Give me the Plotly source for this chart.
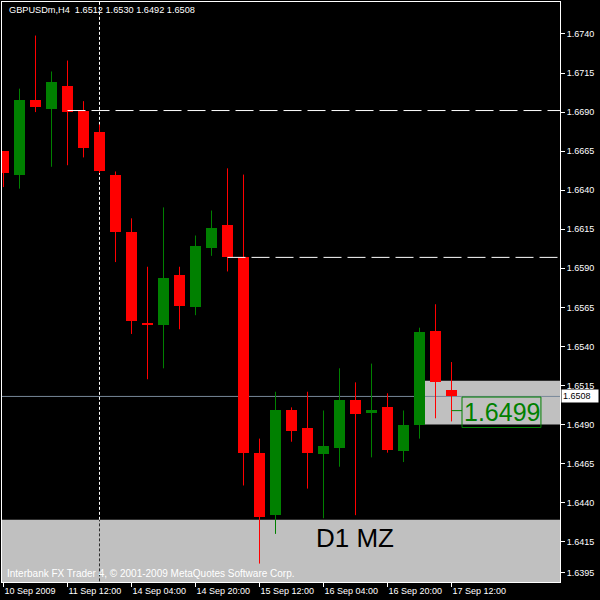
import plotly.graph_objects as go

# ---------------- data ----------------
bar_index = list(range(29))
opens  = [1.6665, 1.6650, 1.6698, 1.6692, 1.6707, 1.6691, 1.6677, 1.6650, 1.6613, 1.6555,
          1.6554, 1.6586, 1.6565, 1.6603, 1.6618, 1.6597, 1.6472, 1.6432, 1.6499, 1.6488,
          1.6471, 1.6475, 1.6506, 1.6498, 1.6501, 1.6473, 1.6490, 1.6550, 1.6512]
highs  = [1.6665, 1.6705, 1.6739, 1.6716, 1.6723, 1.6697, 1.6682, 1.6652, 1.6622, 1.6591,
          1.6629, 1.6591, 1.6611, 1.6627, 1.6654, 1.6650, 1.6481, 1.6511, 1.6501, 1.6511,
          1.6499, 1.6526, 1.6517, 1.6529, 1.6510, 1.6499, 1.6552, 1.6567, 1.6530]
lows   = [1.6642, 1.6641, 1.6690, 1.6655, 1.6656, 1.6661, 1.6651, 1.6594, 1.6548, 1.6519,
          1.6526, 1.6551, 1.6560, 1.6598, 1.6588, 1.6451, 1.6401, 1.6420, 1.6479, 1.6449,
          1.6430, 1.6463, 1.6432, 1.6469, 1.6472, 1.6466, 1.6481, 1.6494, 1.6492]
closes = [1.6651, 1.6698, 1.6693, 1.6709, 1.6690, 1.6667, 1.6652, 1.6613, 1.6556, 1.6554,
          1.6584, 1.6566, 1.6604, 1.6616, 1.6597, 1.6472, 1.6431, 1.6499, 1.6486, 1.6472,
          1.6476, 1.6506, 1.6497, 1.6499, 1.6474, 1.6490, 1.6549, 1.6517, 1.6508]

time_tick_index = [0, 4, 8, 12, 16, 20, 24, 28]
time_tick_labels = ["10 Sep 2009", "11 Sep 12:00", "14 Sep 04:00", "14 Sep 20:00",
                    "15 Sep 12:00", "16 Sep 04:00", "16 Sep 20:00", "17 Sep 12:00"]
price_ticks = [1.6740, 1.6715, 1.6690, 1.6665, 1.6640, 1.6615, 1.6590, 1.6565, 1.6540,
               1.6515, 1.6490, 1.6465, 1.6440, 1.6415, 1.6395]

symbol = "GBPUSDm,H4"
bid_price = 1.6508
d1_zone_top = 1.6429
d1_zone_label = "D1 MZ"
h4_zone_low, h4_zone_high, h4_zone_start = 1.6490, 1.6518, 26
level_starts = [4, 14]
level_prices = [1.6691, 1.6597]
vline_bar = 6
price_label_value = 1.6499
copyright_text = "Interbank FX Trader 4, \u00a9 2001-2009 MetaQuotes Software Corp."

# ---------------- styling constants ----------------
UP = "#008000"
DOWN = "#FF0000"
SILVER = "#C0C0C0"
FONT = "Arial, Liberation Sans, sans-serif"
X_RANGE = [-0.09375, 34.78125]
Y_RANGE = [1.638921, 1.676048]

fig = go.Figure()

# candle bodies
body_colors = [UP if c >= o else DOWN for o, c in zip(opens, closes)]
fig.add_trace(go.Bar(
    x=bar_index,
    y=[c - o for o, c in zip(opens, closes)],
    base=opens,
    width=0.6875,
    marker=dict(color=body_colors, line=dict(width=0)),
    hoverinfo="skip", showlegend=False,
))

# wicks
for col in (UP, DOWN):
    wx, wy = [], []
    for i, o, h, l, c in zip(bar_index, opens, highs, lows, closes):
        if (UP if c >= o else DOWN) == col:
            wx += [i, i, None]
            wy += [l, h, None]
    fig.add_trace(go.Scatter(x=wx, y=wy, mode="lines", line=dict(color=col, width=1),
                             hoverinfo="skip", showlegend=False))

shapes = []
# D1 zone
shapes.append(dict(type="rect", xref="x", yref="y", x0=-2, x1=40, y0=1.630, y1=d1_zone_top,
                   fillcolor=SILVER, line=dict(width=0), layer="below"))
# H4 zone
shapes.append(dict(type="rect", xref="x", yref="y", x0=h4_zone_start, x1=40,
                   y0=h4_zone_low, y1=h4_zone_high,
                   fillcolor=SILVER, line=dict(width=0), layer="below"))
# bid line
shapes.append(dict(type="line", xref="x", yref="y", x0=-2, x1=40, y0=bid_price, y1=bid_price,
                   line=dict(color="#778899", width=1), layer="below"))
# vertical dotted line
shapes.append(dict(type="line", xref="x", yref="y", x0=vline_bar, x1=vline_bar,
                   y0=d1_zone_top, y1=1.68, line=dict(color="white", width=1, dash="3px,2px"),
                   layer="below"))
shapes.append(dict(type="line", xref="x", yref="y", x0=vline_bar, x1=vline_bar,
                   y0=1.630, y1=d1_zone_top, line=dict(color="#303030", width=1, dash="3px,2px"),
                   layer="above"))
# dashed levels
for s, p in zip(level_starts, level_prices):
    shapes.append(dict(type="line", xref="x", yref="y", x0=s, x1=40, y0=p, y1=p,
                       line=dict(color="white", width=1, dash="18px,6px"), layer="above"))
# price label box + leader
last = bar_index[-1]
shapes.append(dict(type="rect", xref="x", yref="y", x0=last + 0.656, x1=last + 5.59,
                   y0=1.64881, y1=1.65076, line=dict(color=UP, width=1),
                   fillcolor="rgba(0,0,0,0)", layer="above"))
shapes.append(dict(type="line", xref="x", yref="y", x0=last, x1=last + 0.656,
                   y0=price_label_value - 0.00001, y1=price_label_value - 0.00001,
                   line=dict(color=UP, width=1), layer="above"))

annotations = [
    dict(xref="paper", yref="paper", x=0.009, y=0.9855, xanchor="left", yanchor="middle",
         text=f"{symbol}\u00a0\u00a0{opens[-1]:.4f} {highs[-1]:.4f} {lows[-1]:.4f} {closes[-1]:.4f}",
         showarrow=False, font=dict(color="white", size=9.2, family=FONT)),
    dict(xref="paper", yref="paper", x=0.0059, y=0.0138, xanchor="left", yanchor="middle",
         text=copyright_text, showarrow=False,
         font=dict(color="white", size=10, family=FONT)),
    dict(xref="x", yref="y", x=21.94, y=1.64171, xanchor="center", yanchor="middle",
         text=d1_zone_label, showarrow=False, font=dict(color="black", size=26, family=FONT)),
    dict(xref="x", yref="y", x=last + 3.16, y=1.64980, xanchor="center", yanchor="middle",
         text=f"{price_label_value:.4f}", showarrow=False,
         font=dict(color=UP, size=25, family=FONT)),
    dict(xref="paper", yref="y", x=1, y=bid_price, xanchor="left", yanchor="middle",
         xshift=1, text=f"{bid_price:.4f}", showarrow=False, bgcolor="white",
         width=34, height=10, align="left", borderpad=1,
         font=dict(color="black", size=9, family=FONT)),
]

fig.update_layout(
    width=600, height=600,
    margin=dict(l=2, r=40, t=2, b=18),
    paper_bgcolor="black", plot_bgcolor="black",
    showlegend=False, bargap=0,
    shapes=shapes, annotations=annotations,
    xaxis=dict(range=X_RANGE, tickmode="array", tickvals=time_tick_index,
               ticktext=time_tick_labels, ticks="outside", ticklen=4, tickcolor="white",
               ticklabelposition="outside right",
               showgrid=False, zeroline=False, showline=True, mirror=True,
               linecolor="white", linewidth=1,
               tickfont=dict(color="white", size=9, family=FONT), fixedrange=True),
    yaxis=dict(range=Y_RANGE, side="right", tickmode="array", tickvals=price_ticks,
               ticktext=[f"{v:.4f}" for v in price_ticks], ticks="outside", ticklen=4,
               tickcolor="white", showgrid=False, zeroline=False, showline=True, mirror=True,
               linecolor="white", linewidth=1,
               tickfont=dict(color="white", size=9, family=FONT), fixedrange=True),
)

fig.write_html("out.html", config={"displayModeBar": False},
               post_script="document.body.style.margin='0';document.body.style.background='black';")
